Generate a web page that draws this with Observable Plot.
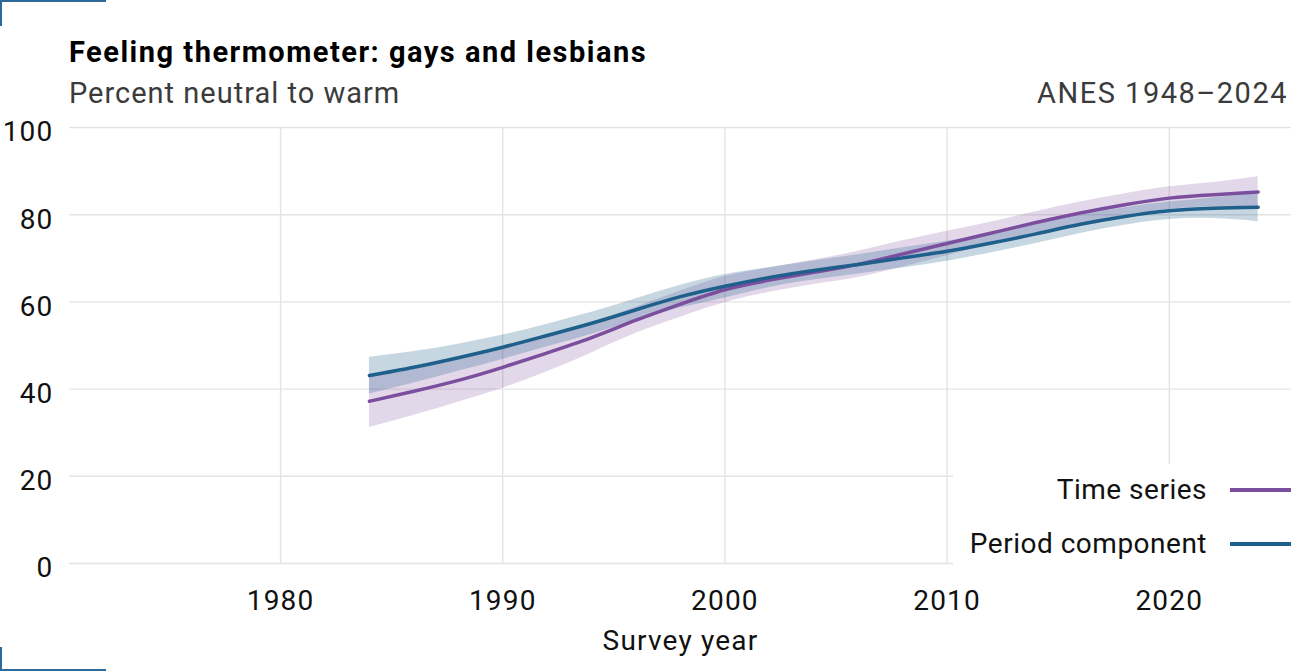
<!DOCTYPE html>
<html><head><meta charset="utf-8">
<script src="https://cdn.jsdelivr.net/npm/d3@7"></script>
<script src="https://cdn.jsdelivr.net/npm/@observablehq/plot@0.6"></script>
<style>
body{margin:0;background:#fff;font-family:Roboto,sans-serif;}
#wrap{position:relative;width:1291px;height:671px;overflow:hidden;background:#fff;}
.t{position:absolute;white-space:nowrap;line-height:29px;font-size:29px;}
.corner{position:absolute;border-color:#2b6a9a;border-style:solid;border-width:0;}
#legend{position:absolute;left:953px;top:464px;width:338px;height:102px;background:#fff;}
.item{position:absolute;right:0;width:338px;height:30px;}
.item .lab{position:absolute;right:84px;top:0;font-size:28px;letter-spacing:0.5px;line-height:30px;color:#111;white-space:nowrap;}
.item .sw{position:absolute;right:0;width:61px;height:3.5px;top:13px;}
#chart g[aria-label="x-axis tick label"] text{letter-spacing:1.2px;}
#chart g[aria-label="y-axis tick label"] text{letter-spacing:1.2px;}
#chart g[aria-label="text"] text{letter-spacing:1.2px;}
</style></head><body>
<div id="wrap">
  <div class="corner" style="left:0;top:0;width:104px;height:24px;border-top-width:2px;border-left-width:2px;"></div>
  <div class="corner" style="left:0;top:647px;width:104px;height:22px;border-bottom-width:2px;border-left-width:2px;"></div>
  <div class="t" style="left:69px;top:38px;font-weight:700;color:#000;letter-spacing:1.5px">Feeling thermometer: gays and lesbians</div>
  <div class="t" style="left:69px;top:79px;color:#3b3b3b;letter-spacing:1px">Percent neutral to warm</div>
  <div class="t" style="right:3px;top:79px;color:#3b3b3b;letter-spacing:1.5px">ANES 1948–2024</div>
  <div id="chart" style="position:absolute;left:0;top:100px"></div>
  <div id="legend"></div>
</div>
<script>
const years = [1984,1986,1988,1990,1992,1994,1996,1998,2000,2002,2004,2006,2008,2010,2012,2014,2016,2018,2020,2022,2024];
const timeSeries     = [37.2,39.5,42.0,45.0,48.3,51.8,55.8,59.5,62.8,65.0,66.8,68.6,71.0,73.4,75.8,78.2,80.4,82.3,83.8,84.6,85.2];
const timeSeriesLow  = [31.2,34.0,37.0,40.2,44.0,48.3,52.8,56.5,59.8,62.2,64.0,65.6,68.0,70.6,73.3,75.7,77.9,79.8,81.2,81.8,81.7];
const timeSeriesHigh = [43.2,45.0,47.0,49.8,52.6,55.3,58.8,62.5,65.8,67.8,69.6,71.6,74.0,76.2,78.3,80.7,82.9,84.8,86.4,87.4,88.7];
const periodComp     = [43.1,45.0,47.2,49.6,52.3,55.1,58.2,61.2,63.6,65.6,67.2,68.6,70.1,71.6,73.5,75.6,77.8,79.6,80.9,81.5,81.7];
const periodLow      = [38.9,41.4,44.1,46.8,49.7,52.6,55.7,58.6,60.9,63.3,65.0,66.4,67.8,69.3,71.3,73.4,75.7,77.6,78.9,79.1,78.4];
const periodHigh     = [47.3,48.6,50.3,52.4,54.9,57.6,60.7,63.8,66.3,67.9,69.4,70.8,72.4,73.9,75.7,77.8,79.9,81.6,82.9,83.9,85.0];
const seriesNames = ["Time series", "Period component"];
const seriesColors = ["#7b4f9e", "#1e5f8b"];
const xTicks = [1980,1990,2000,2010,2020];
const yTicks = [0,20,40,60,80,100];

const tsRows = years.map((y,i)=>({year:y, v:timeSeries[i], lo:timeSeriesLow[i], hi:timeSeriesHigh[i]}));
const pcRows = years.map((y,i)=>({year:y, v:periodComp[i], lo:periodLow[i], hi:periodHigh[i]}));

const chart = Plot.plot({
  width:1291, height:571,
  marginTop:27, marginBottom:108, marginLeft:69, marginRight:0,
  x:{domain:[1970.5,2025.5]},
  y:{domain:[0,100]},
  style:{fontFamily:"Roboto, sans-serif", fontSize:"28px", color:"#111", background:"transparent", overflow:"visible"},
  marks:[
    Plot.gridX(xTicks, {stroke:"#e4e4e4", strokeOpacity:1, strokeWidth:1.4}),
    Plot.gridY(yTicks, {stroke:"#e4e4e4", strokeOpacity:1, strokeWidth:1.4}),
    Plot.areaY(tsRows, {x:"year", y1:"lo", y2:"hi", fill:seriesColors[0], fillOpacity:0.22, curve:"natural"}),
    Plot.areaY(pcRows, {x:"year", y1:"lo", y2:"hi", fill:seriesColors[1], fillOpacity:0.25, curve:"natural"}),
    Plot.lineY(tsRows, {x:"year", y:"v", stroke:seriesColors[0], strokeWidth:3.5, curve:"natural"}),
    Plot.lineY(pcRows, {x:"year", y:"v", stroke:seriesColors[1], strokeWidth:3.5, curve:"natural"}),
    Plot.axisX({ticks:xTicks, tickSize:0, tickPadding:27, tickFormat:d=>String(d), label:null}),
    Plot.axisY({ticks:yTicks, tickSize:0, tickPadding:16, dy:5, label:null}),
    Plot.text(["Survey year"], {text:d=>d, frameAnchor:"bottom", lineAnchor:"middle", dy:77.5, fontSize:28, fill:"#111"})
  ]
});
document.getElementById("chart").appendChild(chart);

const legend = document.getElementById("legend");
seriesNames.forEach((name,i)=>{
  const it = document.createElement("div");
  it.className = "item";
  it.style.top = (11 + i*54) + "px";
  const lab = document.createElement("div");
  lab.className = "lab"; lab.textContent = name;
  const sw = document.createElement("div");
  sw.className = "sw"; sw.style.background = seriesColors[i];
  it.appendChild(lab); it.appendChild(sw);
  legend.appendChild(it);
});
</script>
</body></html>
